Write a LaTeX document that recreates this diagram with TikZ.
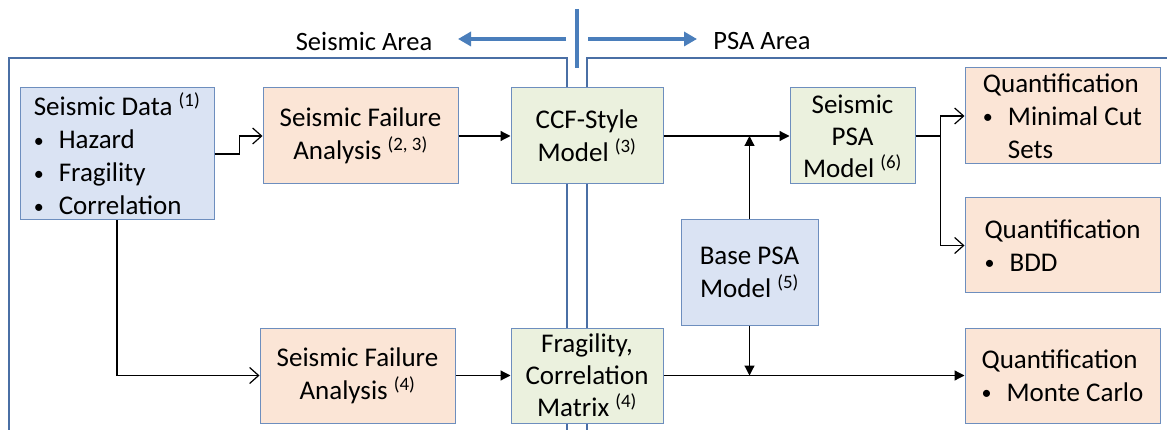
\documentclass[tikz,border=0pt]{standalone}
\usepackage{fontspec}
\setmainfont{Carlito}
\usetikzlibrary{arrows.meta}
\definecolor{bfill}{HTML}{DAE3F3}
\definecolor{ofill}{HTML}{FBE5D6}
\definecolor{gfill}{HTML}{EBF1DE}
\definecolor{bord}{HTML}{6D8EBE}
\definecolor{arealine}{HTML}{4A6FA5}
\definecolor{bigblue}{HTML}{4A7EBB}
\tikzset{
  box/.style={draw=bord, line width=1pt, inner sep=0pt, align=center,
    font=\fontsize{27}{33}\selectfont},
  bluebox/.style={box, fill=bfill},
  orgbox/.style={box, fill=ofill},
  grnbox/.style={box, fill=gfill},
  fillarr/.style={draw=black, line width=1.2pt, -{Triangle[length=10pt,width=10pt]}},
  openarr/.style={draw=black, line width=1.2pt, -{Straight Barb[length=9pt,width=16pt,line width=1.2pt]}},
  arealn/.style={draw=arealine, line width=1.5pt},
  bigarr/.style={draw=bigblue, line width=4pt, -{Triangle[length=13pt,width=14pt]}},
  lbl/.style={font=\fontsize{26.5}{30}\selectfont, inner sep=0pt}
}
\newcommand{\bul}{\makebox[25pt][l]{\raisebox{1.5pt}{\fontsize{20}{20}\selectfont\textbullet}}}
\newcommand{\sups}[1]{\textsuperscript{(#1)}}
\begin{document}
\begin{tikzpicture}[x=1pt,y=-1pt]
\useasboundingbox (0,0) rectangle (1167,430);
% areas
\draw[arealn] (9,430) -- (9,58) -- (567,58) -- (567,430);
\draw[arealn] (587,430) -- (587,58) -- (1167,58);
\draw[draw=bigblue, line width=4pt] (577,9) -- (577,68);
\coordinate (la0) at (566,39);
\coordinate (la1) at (458,39);
\coordinate (ra0) at (588,39);
\coordinate (ra1) at (697,39);
\draw[bigarr] (la0) -- (la1);
\draw[bigarr] (ra0) -- (ra1);
\node[lbl] (seisarea) at (364,41) {Seismic Area};
\node[lbl] (psaarea) at (762,41) {PSA Area};
% boxes
\node[bluebox, minimum width=194pt, minimum height=132pt, align=left] (sd) at (117,154)
  {Seismic Data \sups{1}\\ \bul Hazard\\ \bul Fragility\\ \bul Correlation};
\node[orgbox, minimum width=195pt, minimum height=96pt] (sfa1) at (360.5,136)
  {Seismic Failure\\ Analysis \sups{2, 3}};
\node[grnbox, minimum width=152pt, minimum height=96pt] (ccf) at (587,136)
  {CCF-Style\\ Model \sups{3}};
\node[grnbox, minimum width=125pt, minimum height=96pt, font=\fontsize{27}{32}\selectfont] (spsa) at (852.5,136)
  {Seismic\\ PSA\\ Model \sups{6}};
\node[orgbox, minimum width=195pt, minimum height=96pt, align=left] (q1) at (1062.5,116)
  {Quantification\\ \bul Minimal Cut\\ \hspace*{25pt}Sets};
\node[orgbox, minimum width=195pt, minimum height=95pt, align=left] (q2) at (1062.5,245.5)
  {Quantification\\ \bul BDD};
\node[bluebox, minimum width=137pt, minimum height=105pt] (base) at (749.5,272.5)
  {Base PSA\\ Model \sups{5}};
\node[orgbox, minimum width=195pt, minimum height=95pt] (sfa2) at (357.5,375.5)
  {Seismic Failure\\ Analysis \sups{4}};
\node[grnbox, minimum width=152pt, minimum height=95pt, font=\fontsize{27}{32}\selectfont] (frag) at (587,375.5)
  {Fragility,\\ Correlation\\ Matrix \sups{4}};
\node[orgbox, minimum width=195pt, minimum height=95pt, align=left] (q3) at (1062.5,375.5)
  {Quantification\\ \bul Monte Carlo};
% connectors
\draw[openarr] (sd.east) -- ++(25,0) |- (sfa1.west);
\draw[openarr] (sd.south) |- (sfa2.west);
\draw[fillarr] (sfa1) -- (ccf);
\draw[fillarr] (sfa2) -- (frag);
\draw[fillarr] (ccf) -- (spsa);
\coordinate (j1) at (base.north |- ccf.east);
\coordinate (j2) at (base.south |- frag.east);
\draw[fillarr] (base.north) -- (j1);
\draw[fillarr] (base.south) -- (j2);
\draw[fillarr] (frag) -- (q3);
\draw[openarr] (spsa.east) -- ++(25,0) |- (q1.west);
\draw[openarr] (spsa.east) -- ++(25,0) |- (q2.west);
\end{tikzpicture}
\end{document}
